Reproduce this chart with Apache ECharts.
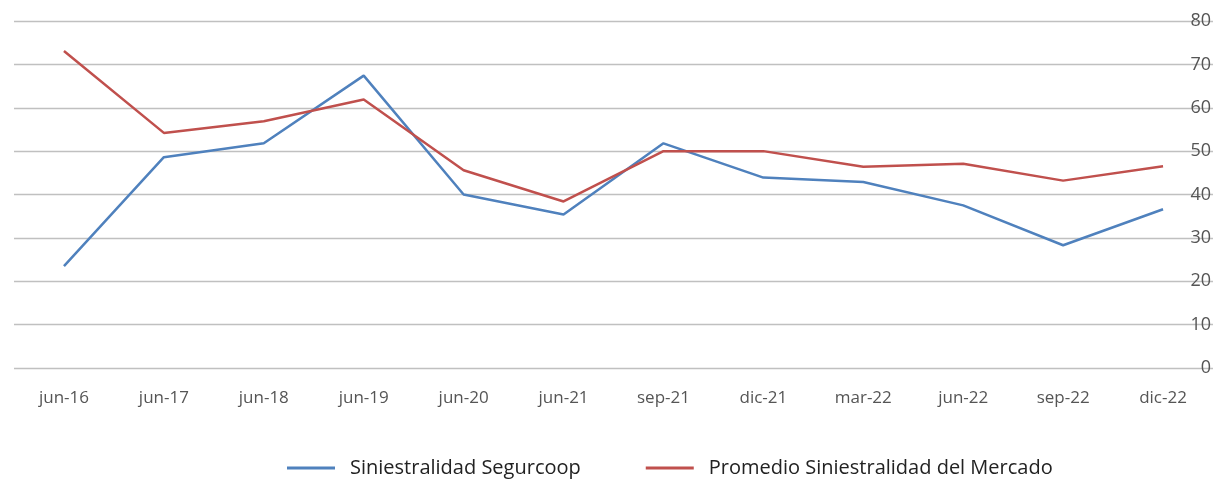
<!DOCTYPE html>
<html lang="es">
  <head>
    <meta charset="utf-8" />
    <script type="text/javascript" src="https://cdn.jsdelivr.net/npm/echarts@6/dist/echarts.min.js"></script>
    <title>Siniestralidad</title>
    <style>
      html, body { margin: 0; padding: 0; background: #fff; }
      #chart { width: 1230px; height: 480px; }
    </style>
  </head>
  <body>
    <div id="chart"></div>
    <script>
      var periods = ['jun-16', 'jun-17', 'jun-18', 'jun-19', 'jun-20', 'jun-21', 'sep-21', 'dic-21', 'mar-22', 'jun-22', 'sep-22', 'dic-22']
      var segurcoop = [23.5, 48.6, 51.8, 67.4, 40.0, 35.4, 51.8, 43.9, 42.9, 37.5, 28.3, 36.6]
      var mercado = [73.1, 54.2, 56.9, 61.9, 45.6, 38.4, 50.0, 50.0, 46.4, 47.1, 43.2, 46.5]

      var font = 'Open Sans'
      var chart = echarts.init(document.getElementById('chart'))
      chart.setOption({
        animation: false,
        grid: { left: 14, right: 17, top: 21, bottom: 112 },
        legend: {
          left: 287,
          top: 458,
          padding: 0,
          itemWidth: 48,
          itemHeight: 3,
          itemGap: 65,
          icon: 'rect',
          textStyle: { fontFamily: font, fontSize: 20, color: '#222', padding: [0, 0, 0, 10] },
          data: ['Siniestralidad Segurcoop', 'Promedio Siniestralidad del Mercado']
        },
        xAxis: {
          type: 'category',
          data: periods,
          boundaryGap: true,
          axisLine: { show: false },
          axisTick: { show: false },
          axisLabel: { fontFamily: font, fontSize: 17, color: '#555', margin: 22 }
        },
        yAxis: {
          type: 'value',
          position: 'right',
          min: 0,
          max: 80,
          interval: 10,
          axisLine: { show: false },
          axisTick: { show: false },
          axisLabel: { inside: true, margin: 2, fontFamily: font, fontSize: 18, color: '#555' },
          splitLine: { lineStyle: { color: '#c0c0c0', width: 1.3 } }
        },
        series: [
          {
            name: 'Siniestralidad Segurcoop',
            type: 'line',
            data: segurcoop,
            symbol: 'none',
            color: '#4f81bd',
            lineStyle: { width: 2.5, color: '#4f81bd' }
          },
          {
            name: 'Promedio Siniestralidad del Mercado',
            type: 'line',
            data: mercado,
            symbol: 'none',
            color: '#c0504d',
            lineStyle: { width: 2.5, color: '#c0504d' }
          }
        ]
      })
    </script>
  </body>
</html>
